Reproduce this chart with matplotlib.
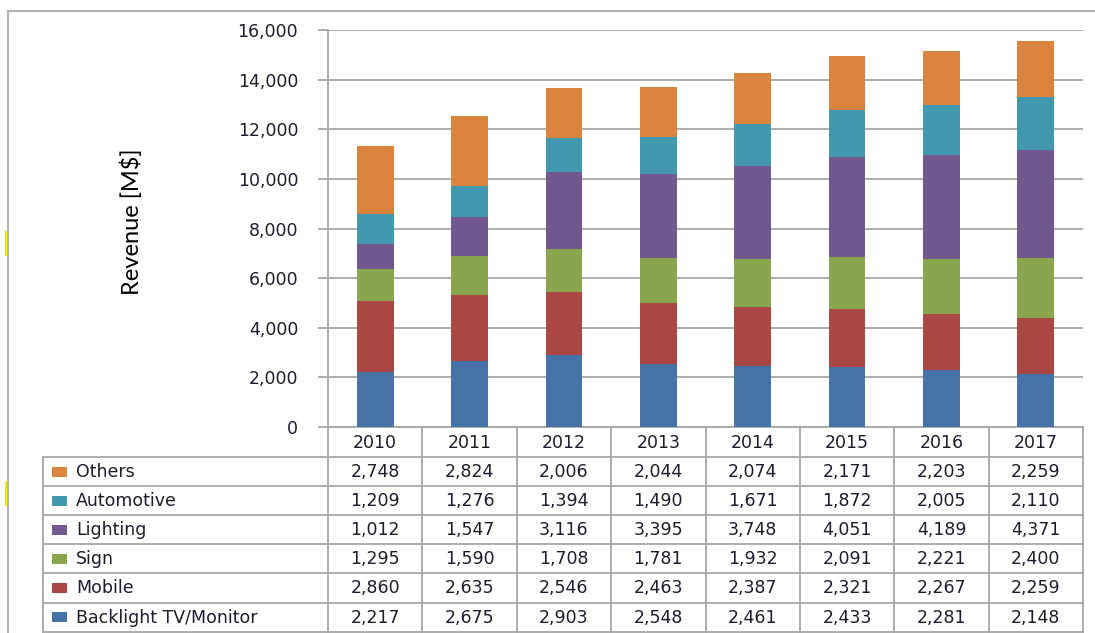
import matplotlib
matplotlib.use("Agg")
import matplotlib.pyplot as plt
import matplotlib.transforms as mtransforms
from matplotlib.patches import Rectangle
from matplotlib.ticker import FuncFormatter

years = ["2010", "2011", "2012", "2013", "2014", "2015", "2016", "2017"]
series_names = ["Backlight TV/Monitor", "Mobile", "Sign", "Lighting", "Automotive", "Others"]
backlight = [2217, 2675, 2903, 2548, 2461, 2433, 2281, 2148]
mobile = [2860, 2635, 2546, 2463, 2387, 2321, 2267, 2259]
sign = [1295, 1590, 1708, 1781, 1932, 2091, 2221, 2400]
lighting = [1012, 1547, 3116, 3395, 3748, 4051, 4189, 4371]
automotive = [1209, 1276, 1394, 1490, 1671, 1872, 2005, 2110]
others = [2748, 2824, 2006, 2044, 2074, 2171, 2203, 2259]
series_values = [backlight, mobile, sign, lighting, automotive, others]
colors = ["#4572A7", "#AA4643", "#89A54E", "#71588F", "#4198AF", "#DB843D"]
yticks = [0, 2000, 4000, 6000, 8000, 10000, 12000, 14000, 16000]

W, H = 1095, 633
fig = plt.figure(figsize=(W / 100, H / 100), dpi=100)
TXT = "#1c1c2e"
GRID = "#a6a6a6"
FS = 12.5

# overlay in pixel coordinates
ov = fig.add_axes([0, 0, 1, 1], zorder=0)
ov.set_xlim(0, W)
ov.set_ylim(H, 0)
ov.axis("off")

ax_left, ax_right, ax_top, ax_bot = 328, 1083, 30, 427
ax = fig.add_axes([ax_left / W, (H - ax_bot) / H, (ax_right - ax_left) / W, (ax_bot - ax_top) / H], zorder=2)
ax.patch.set_alpha(0)

x = list(range(len(years)))
bottom = [0] * len(years)
for vals, c, name in zip(series_values, colors, series_names):
    ax.bar(x, vals, bottom=bottom, width=0.39, color=c, edgecolor="none", label=name, zorder=3)
    bottom = [b + v for b, v in zip(bottom, vals)]

ax.set_xlim(-0.5, len(years) - 0.5)
ax.set_ylim(0, 16000)
ax.set_yticks(yticks)
ax.yaxis.set_major_formatter(FuncFormatter(lambda v, p: f"{int(v):,}"))
ax.set_xticks([])
ax.grid(axis="y", color=GRID, linewidth=1.3, zorder=0)
for s in ["top", "right"]:
    ax.spines[s].set_visible(False)
for s in ["left", "bottom"]:
    ax.spines[s].set_color(GRID)
    ax.spines[s].set_linewidth(1.3)
ax.tick_params(axis="y", length=7.5, width=1.3, color=GRID, pad=14, labelsize=12.5, labelcolor=TXT)
for lbl in ax.get_yticklabels():
    lbl.set_fontfamily("DejaVu Sans")

ax.set_ylabel("Revenue [M$]", fontsize=17, family=["Lato", "DejaVu Sans"],
              color="black", labelpad=0)
ax.yaxis.set_label_coords((143 - ax_left) / (ax_right - ax_left),
                          0.5 + (0.5 * (ax_bot + ax_top) - 222) / (ax_bot - ax_top))

# Data table
tr = mtransforms.blended_transform_factory(ax.transData, ov.transData)
row_h = 29.1
header_top = 427
header_bot = 457
table_left = 43
rows_order = list(range(len(series_names)))[::-1]  # Others first
n = len(years)

for i, yr in enumerate(years):
    ov.text(i, (header_top + header_bot) / 2 + 0.5, yr, transform=tr, ha="center", va="center",
            fontsize=FS, color=TXT, family="DejaVu Sans")
for i in range(n + 1):
    ov.plot([i - 0.5, i - 0.5], [header_top, header_bot], transform=tr, color=GRID, lw=1.3, clip_on=False)

table_bot = header_bot + row_h * len(series_names)
for r in range(len(series_names) + 1):
    yy = header_bot + r * row_h
    ov.plot([table_left, ax_right], [yy, yy], color=GRID, lw=1.3, clip_on=False)
ov.plot([table_left, table_left], [header_bot, table_bot], color=GRID, lw=1.3)
for i in range(n + 1):
    ov.plot([i - 0.5, i - 0.5], [header_bot, table_bot], transform=tr, color=GRID, lw=1.3, clip_on=False)

for r, si in enumerate(rows_order):
    yc = header_bot + (r + 0.5) * row_h
    ov.add_patch(Rectangle((52, yc - 5), 15, 10, color=colors[si], lw=0))
    ov.text(76, yc + 0.5, series_names[si], ha="left", va="center", fontsize=FS, color=TXT, family="DejaVu Sans")
    for i, v in enumerate(series_values[si]):
        ov.text(i, yc + 0.5, f"{v:,}", transform=tr, ha="center", va="center", fontsize=FS,
                color=TXT, family="DejaVu Sans")

# outer frame
ov.plot([8, W], [11, 11], color="#b4b4b4", lw=1.5)
ov.plot([8, 8], [11, H], color="#b4b4b4", lw=1.5)
ov.plot([6, 6], [232, 255], color="#f5e600", lw=1.5)
ov.plot([6, 6], [483, 505], color="#f5e600", lw=1.5)

fig.savefig("out.png", dpi=100)
